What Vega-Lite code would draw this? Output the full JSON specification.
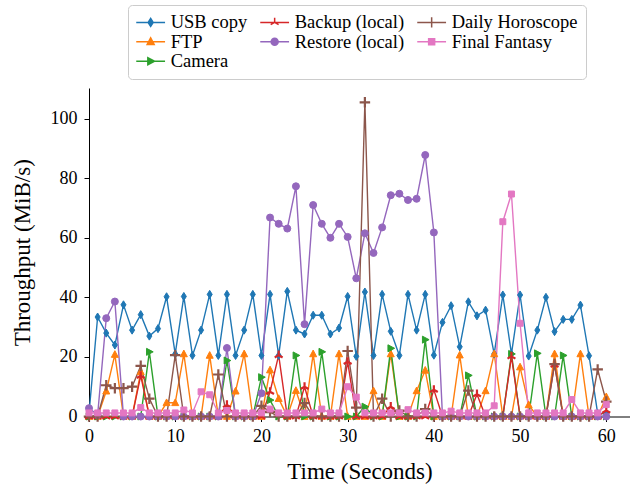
{
"$schema": "https://vega.github.io/schema/vega-lite/v6.json",
"autosize": {"type": "none"},
"padding": {"left": 89, "top": 88, "right": 0, "bottom": 75.5},
"width": 541,
"height": 328.5,
"background": "white",
"config": {
  "font": "Liberation Serif",
  "view": {"stroke": null},
  "axis": {"domainColor": "black", "tickColor": "black", "labelColor": "black", "titleColor": "black", "labelFont": "Liberation Serif", "titleFont": "Liberation Serif", "labelFontSize": 18, "titleFontSize": 23, "titleFontWeight": "normal", "grid": false, "tickSize": 5, "domainWidth": 1, "tickWidth": 1, "labelOverlap": false, "labelFlush": false}
},
"data": {"values": [
{"t":0,"series":"USB copy","v":1},{"t":1,"series":"USB copy","v":33.4},{"t":2,"series":"USB copy","v":28},{"t":3,"series":"USB copy","v":24},{"t":4,"series":"USB copy","v":37.5},{"t":5,"series":"USB copy","v":29},{"t":6,"series":"USB copy","v":34.2},{"t":7,"series":"USB copy","v":27},{"t":8,"series":"USB copy","v":29.5},{"t":9,"series":"USB copy","v":40.2},{"t":10,"series":"USB copy","v":21},{"t":11,"series":"USB copy","v":40.3},{"t":12,"series":"USB copy","v":20.5},{"t":13,"series":"USB copy","v":29},{"t":14,"series":"USB copy","v":41},{"t":15,"series":"USB copy","v":20.5},{"t":16,"series":"USB copy","v":41},{"t":17,"series":"USB copy","v":20.5},{"t":18,"series":"USB copy","v":29},{"t":19,"series":"USB copy","v":41},{"t":20,"series":"USB copy","v":20.5},{"t":21,"series":"USB copy","v":41},{"t":22,"series":"USB copy","v":20.5},{"t":23,"series":"USB copy","v":42},{"t":24,"series":"USB copy","v":29},{"t":25,"series":"USB copy","v":27.7},{"t":26,"series":"USB copy","v":34},{"t":27,"series":"USB copy","v":34},{"t":28,"series":"USB copy","v":27.7},{"t":29,"series":"USB copy","v":29.7},{"t":30,"series":"USB copy","v":40.3},{"t":31,"series":"USB copy","v":20.2},{"t":32,"series":"USB copy","v":41.8},{"t":33,"series":"USB copy","v":20.5},{"t":34,"series":"USB copy","v":41},{"t":35,"series":"USB copy","v":28.6},{"t":36,"series":"USB copy","v":20.5},{"t":37,"series":"USB copy","v":41},{"t":38,"series":"USB copy","v":29},{"t":39,"series":"USB copy","v":41},{"t":40,"series":"USB copy","v":20.6},{"t":41,"series":"USB copy","v":31.6},{"t":42,"series":"USB copy","v":37.2},{"t":43,"series":"USB copy","v":23.4},{"t":44,"series":"USB copy","v":38.5},{"t":45,"series":"USB copy","v":33.8},{"t":46,"series":"USB copy","v":35.7},{"t":47,"series":"USB copy","v":21},{"t":48,"series":"USB copy","v":40.8},{"t":49,"series":"USB copy","v":21},{"t":50,"series":"USB copy","v":40.8},{"t":51,"series":"USB copy","v":20.3},{"t":52,"series":"USB copy","v":29},{"t":53,"series":"USB copy","v":40},{"t":54,"series":"USB copy","v":28.5},{"t":55,"series":"USB copy","v":32.6},{"t":56,"series":"USB copy","v":32.6},{"t":57,"series":"USB copy","v":37.4},{"t":58,"series":"USB copy","v":20.4},{"t":59,"series":"USB copy","v":1},{"t":60,"series":"USB copy","v":1},
{"t":0,"series":"FTP","v":0},{"t":1,"series":"FTP","v":0},{"t":2,"series":"FTP","v":8.5},{"t":3,"series":"FTP","v":20.8},{"t":4,"series":"FTP","v":0},{"t":5,"series":"FTP","v":0},{"t":6,"series":"FTP","v":15},{"t":7,"series":"FTP","v":0},{"t":8,"series":"FTP","v":0},{"t":9,"series":"FTP","v":4.6},{"t":10,"series":"FTP","v":4.6},{"t":11,"series":"FTP","v":21},{"t":12,"series":"FTP","v":0},{"t":13,"series":"FTP","v":0},{"t":14,"series":"FTP","v":20.5},{"t":15,"series":"FTP","v":0},{"t":16,"series":"FTP","v":0},{"t":17,"series":"FTP","v":8.5},{"t":18,"series":"FTP","v":21},{"t":19,"series":"FTP","v":0},{"t":20,"series":"FTP","v":0},{"t":21,"series":"FTP","v":15.6},{"t":22,"series":"FTP","v":6},{"t":23,"series":"FTP","v":0},{"t":24,"series":"FTP","v":8.7},{"t":25,"series":"FTP","v":0},{"t":26,"series":"FTP","v":21},{"t":27,"series":"FTP","v":0},{"t":28,"series":"FTP","v":0},{"t":29,"series":"FTP","v":21},{"t":30,"series":"FTP","v":0},{"t":31,"series":"FTP","v":0},{"t":32,"series":"FTP","v":0},{"t":33,"series":"FTP","v":8.6},{"t":34,"series":"FTP","v":0},{"t":35,"series":"FTP","v":21},{"t":36,"series":"FTP","v":0},{"t":37,"series":"FTP","v":0},{"t":38,"series":"FTP","v":8.6},{"t":39,"series":"FTP","v":15.5},{"t":40,"series":"FTP","v":0},{"t":41,"series":"FTP","v":0},{"t":42,"series":"FTP","v":0},{"t":43,"series":"FTP","v":20.6},{"t":44,"series":"FTP","v":0},{"t":45,"series":"FTP","v":0},{"t":46,"series":"FTP","v":8.6},{"t":47,"series":"FTP","v":21},{"t":48,"series":"FTP","v":0},{"t":49,"series":"FTP","v":0},{"t":50,"series":"FTP","v":16.6},{"t":51,"series":"FTP","v":3.9},{"t":52,"series":"FTP","v":0},{"t":53,"series":"FTP","v":0},{"t":54,"series":"FTP","v":21},{"t":55,"series":"FTP","v":0},{"t":56,"series":"FTP","v":0},{"t":57,"series":"FTP","v":21},{"t":58,"series":"FTP","v":0},{"t":59,"series":"FTP","v":0},{"t":60,"series":"FTP","v":6.6},
{"t":0,"series":"Camera","v":0},{"t":1,"series":"Camera","v":0},{"t":2,"series":"Camera","v":0},{"t":3,"series":"Camera","v":0},{"t":4,"series":"Camera","v":0},{"t":5,"series":"Camera","v":0},{"t":6,"series":"Camera","v":0},{"t":7,"series":"Camera","v":21.7},{"t":8,"series":"Camera","v":0},{"t":9,"series":"Camera","v":0},{"t":10,"series":"Camera","v":0},{"t":11,"series":"Camera","v":0},{"t":12,"series":"Camera","v":0},{"t":13,"series":"Camera","v":0},{"t":14,"series":"Camera","v":0},{"t":15,"series":"Camera","v":0},{"t":16,"series":"Camera","v":18.8},{"t":17,"series":"Camera","v":0},{"t":18,"series":"Camera","v":0},{"t":19,"series":"Camera","v":0},{"t":20,"series":"Camera","v":13.2},{"t":21,"series":"Camera","v":5.5},{"t":22,"series":"Camera","v":0},{"t":23,"series":"Camera","v":0},{"t":24,"series":"Camera","v":20.5},{"t":25,"series":"Camera","v":0},{"t":26,"series":"Camera","v":0},{"t":27,"series":"Camera","v":21.7},{"t":28,"series":"Camera","v":0},{"t":29,"series":"Camera","v":0},{"t":30,"series":"Camera","v":0},{"t":31,"series":"Camera","v":0},{"t":32,"series":"Camera","v":3.3},{"t":33,"series":"Camera","v":0},{"t":34,"series":"Camera","v":0},{"t":35,"series":"Camera","v":22.9},{"t":36,"series":"Camera","v":0},{"t":37,"series":"Camera","v":0},{"t":38,"series":"Camera","v":0},{"t":39,"series":"Camera","v":25.8},{"t":40,"series":"Camera","v":0},{"t":41,"series":"Camera","v":0},{"t":42,"series":"Camera","v":0},{"t":43,"series":"Camera","v":0},{"t":44,"series":"Camera","v":13.8},{"t":45,"series":"Camera","v":0},{"t":46,"series":"Camera","v":0},{"t":47,"series":"Camera","v":0},{"t":48,"series":"Camera","v":0},{"t":49,"series":"Camera","v":21},{"t":50,"series":"Camera","v":0},{"t":51,"series":"Camera","v":0},{"t":52,"series":"Camera","v":21.2},{"t":53,"series":"Camera","v":0},{"t":54,"series":"Camera","v":0},{"t":55,"series":"Camera","v":20.5},{"t":56,"series":"Camera","v":0},{"t":57,"series":"Camera","v":0},{"t":58,"series":"Camera","v":0},{"t":59,"series":"Camera","v":0},{"t":60,"series":"Camera","v":0},
{"t":0,"series":"Backup (local)","v":0},{"t":1,"series":"Backup (local)","v":0},{"t":2,"series":"Backup (local)","v":0},{"t":3,"series":"Backup (local)","v":0},{"t":4,"series":"Backup (local)","v":0},{"t":5,"series":"Backup (local)","v":0},{"t":6,"series":"Backup (local)","v":13.7},{"t":7,"series":"Backup (local)","v":0},{"t":8,"series":"Backup (local)","v":0},{"t":9,"series":"Backup (local)","v":0},{"t":10,"series":"Backup (local)","v":0},{"t":11,"series":"Backup (local)","v":0},{"t":12,"series":"Backup (local)","v":0},{"t":13,"series":"Backup (local)","v":0},{"t":14,"series":"Backup (local)","v":0},{"t":15,"series":"Backup (local)","v":0},{"t":16,"series":"Backup (local)","v":3.9},{"t":17,"series":"Backup (local)","v":0},{"t":18,"series":"Backup (local)","v":0},{"t":19,"series":"Backup (local)","v":0},{"t":20,"series":"Backup (local)","v":0},{"t":21,"series":"Backup (local)","v":8.3},{"t":22,"series":"Backup (local)","v":20.6},{"t":23,"series":"Backup (local)","v":0},{"t":24,"series":"Backup (local)","v":0},{"t":25,"series":"Backup (local)","v":10},{"t":26,"series":"Backup (local)","v":0},{"t":27,"series":"Backup (local)","v":0},{"t":28,"series":"Backup (local)","v":0},{"t":29,"series":"Backup (local)","v":0},{"t":30,"series":"Backup (local)","v":18.4},{"t":31,"series":"Backup (local)","v":0},{"t":32,"series":"Backup (local)","v":0},{"t":33,"series":"Backup (local)","v":0},{"t":34,"series":"Backup (local)","v":0},{"t":35,"series":"Backup (local)","v":3.3},{"t":36,"series":"Backup (local)","v":0},{"t":37,"series":"Backup (local)","v":0},{"t":38,"series":"Backup (local)","v":0},{"t":39,"series":"Backup (local)","v":0},{"t":40,"series":"Backup (local)","v":9},{"t":41,"series":"Backup (local)","v":0},{"t":42,"series":"Backup (local)","v":0},{"t":43,"series":"Backup (local)","v":0},{"t":44,"series":"Backup (local)","v":0},{"t":45,"series":"Backup (local)","v":7.5},{"t":46,"series":"Backup (local)","v":0},{"t":47,"series":"Backup (local)","v":0},{"t":48,"series":"Backup (local)","v":0},{"t":49,"series":"Backup (local)","v":20.2},{"t":50,"series":"Backup (local)","v":0},{"t":51,"series":"Backup (local)","v":0},{"t":52,"series":"Backup (local)","v":0},{"t":53,"series":"Backup (local)","v":0},{"t":54,"series":"Backup (local)","v":17.4},{"t":55,"series":"Backup (local)","v":0},{"t":56,"series":"Backup (local)","v":0},{"t":57,"series":"Backup (local)","v":0},{"t":58,"series":"Backup (local)","v":0},{"t":59,"series":"Backup (local)","v":0},{"t":60,"series":"Backup (local)","v":2},
{"t":0,"series":"Restore (local)","v":2.8},{"t":1,"series":"Restore (local)","v":0.5},{"t":2,"series":"Restore (local)","v":33},{"t":3,"series":"Restore (local)","v":38.6},{"t":4,"series":"Restore (local)","v":0},{"t":5,"series":"Restore (local)","v":0},{"t":6,"series":"Restore (local)","v":0},{"t":7,"series":"Restore (local)","v":0},{"t":8,"series":"Restore (local)","v":0},{"t":9,"series":"Restore (local)","v":0},{"t":10,"series":"Restore (local)","v":0},{"t":11,"series":"Restore (local)","v":0},{"t":12,"series":"Restore (local)","v":0},{"t":13,"series":"Restore (local)","v":0},{"t":14,"series":"Restore (local)","v":0},{"t":15,"series":"Restore (local)","v":0},{"t":16,"series":"Restore (local)","v":23},{"t":17,"series":"Restore (local)","v":0},{"t":18,"series":"Restore (local)","v":0},{"t":19,"series":"Restore (local)","v":0},{"t":20,"series":"Restore (local)","v":7.8},{"t":21,"series":"Restore (local)","v":66.8},{"t":22,"series":"Restore (local)","v":64.7},{"t":23,"series":"Restore (local)","v":63.1},{"t":24,"series":"Restore (local)","v":77.3},{"t":25,"series":"Restore (local)","v":31},{"t":26,"series":"Restore (local)","v":71},{"t":27,"series":"Restore (local)","v":64.7},{"t":28,"series":"Restore (local)","v":60},{"t":29,"series":"Restore (local)","v":64.7},{"t":30,"series":"Restore (local)","v":60.3},{"t":31,"series":"Restore (local)","v":46.4},{"t":32,"series":"Restore (local)","v":61.5},{"t":33,"series":"Restore (local)","v":54.9},{"t":34,"series":"Restore (local)","v":63.5},{"t":35,"series":"Restore (local)","v":74.3},{"t":36,"series":"Restore (local)","v":74.8},{"t":37,"series":"Restore (local)","v":72.7},{"t":38,"series":"Restore (local)","v":73.1},{"t":39,"series":"Restore (local)","v":87.8},{"t":40,"series":"Restore (local)","v":61.8},{"t":41,"series":"Restore (local)","v":0},{"t":42,"series":"Restore (local)","v":0},{"t":43,"series":"Restore (local)","v":0},{"t":44,"series":"Restore (local)","v":0},{"t":45,"series":"Restore (local)","v":0},{"t":46,"series":"Restore (local)","v":0},{"t":47,"series":"Restore (local)","v":0},{"t":48,"series":"Restore (local)","v":0},{"t":49,"series":"Restore (local)","v":0},{"t":50,"series":"Restore (local)","v":0},{"t":51,"series":"Restore (local)","v":0},{"t":52,"series":"Restore (local)","v":0},{"t":53,"series":"Restore (local)","v":0},{"t":54,"series":"Restore (local)","v":0},{"t":55,"series":"Restore (local)","v":0},{"t":56,"series":"Restore (local)","v":0},{"t":57,"series":"Restore (local)","v":0},{"t":58,"series":"Restore (local)","v":0},{"t":59,"series":"Restore (local)","v":0},{"t":60,"series":"Restore (local)","v":0},
{"t":0,"series":"Daily Horoscope","v":0},{"t":1,"series":"Daily Horoscope","v":0},{"t":2,"series":"Daily Horoscope","v":10.5},{"t":3,"series":"Daily Horoscope","v":9.5},{"t":4,"series":"Daily Horoscope","v":9.5},{"t":5,"series":"Daily Horoscope","v":10},{"t":6,"series":"Daily Horoscope","v":17},{"t":7,"series":"Daily Horoscope","v":6},{"t":8,"series":"Daily Horoscope","v":0},{"t":9,"series":"Daily Horoscope","v":0},{"t":10,"series":"Daily Horoscope","v":20.6},{"t":11,"series":"Daily Horoscope","v":0},{"t":12,"series":"Daily Horoscope","v":0},{"t":13,"series":"Daily Horoscope","v":0},{"t":14,"series":"Daily Horoscope","v":0},{"t":15,"series":"Daily Horoscope","v":14.1},{"t":16,"series":"Daily Horoscope","v":0},{"t":17,"series":"Daily Horoscope","v":0},{"t":18,"series":"Daily Horoscope","v":0},{"t":19,"series":"Daily Horoscope","v":0},{"t":20,"series":"Daily Horoscope","v":3.6},{"t":21,"series":"Daily Horoscope","v":1.5},{"t":22,"series":"Daily Horoscope","v":0},{"t":23,"series":"Daily Horoscope","v":0},{"t":24,"series":"Daily Horoscope","v":0},{"t":25,"series":"Daily Horoscope","v":4.5},{"t":26,"series":"Daily Horoscope","v":0},{"t":27,"series":"Daily Horoscope","v":0},{"t":28,"series":"Daily Horoscope","v":0},{"t":29,"series":"Daily Horoscope","v":0},{"t":30,"series":"Daily Horoscope","v":22},{"t":31,"series":"Daily Horoscope","v":3},{"t":32,"series":"Daily Horoscope","v":105.5},{"t":33,"series":"Daily Horoscope","v":0},{"t":34,"series":"Daily Horoscope","v":6},{"t":35,"series":"Daily Horoscope","v":0},{"t":36,"series":"Daily Horoscope","v":2},{"t":37,"series":"Daily Horoscope","v":0},{"t":38,"series":"Daily Horoscope","v":0},{"t":39,"series":"Daily Horoscope","v":2.5},{"t":40,"series":"Daily Horoscope","v":0},{"t":41,"series":"Daily Horoscope","v":0},{"t":42,"series":"Daily Horoscope","v":0},{"t":43,"series":"Daily Horoscope","v":0},{"t":44,"series":"Daily Horoscope","v":8.7},{"t":45,"series":"Daily Horoscope","v":0},{"t":46,"series":"Daily Horoscope","v":0},{"t":47,"series":"Daily Horoscope","v":0},{"t":48,"series":"Daily Horoscope","v":0},{"t":49,"series":"Daily Horoscope","v":0},{"t":50,"series":"Daily Horoscope","v":0},{"t":51,"series":"Daily Horoscope","v":0},{"t":52,"series":"Daily Horoscope","v":0},{"t":53,"series":"Daily Horoscope","v":0},{"t":54,"series":"Daily Horoscope","v":17.6},{"t":55,"series":"Daily Horoscope","v":0},{"t":56,"series":"Daily Horoscope","v":0},{"t":57,"series":"Daily Horoscope","v":0},{"t":58,"series":"Daily Horoscope","v":0},{"t":59,"series":"Daily Horoscope","v":15.8},{"t":60,"series":"Daily Horoscope","v":5},
{"t":0,"series":"Final Fantasy","v":1.2},{"t":1,"series":"Final Fantasy","v":1.2},{"t":2,"series":"Final Fantasy","v":1.2},{"t":3,"series":"Final Fantasy","v":1.2},{"t":4,"series":"Final Fantasy","v":1.2},{"t":5,"series":"Final Fantasy","v":1.2},{"t":6,"series":"Final Fantasy","v":3},{"t":7,"series":"Final Fantasy","v":1.2},{"t":8,"series":"Final Fantasy","v":1.2},{"t":9,"series":"Final Fantasy","v":1.2},{"t":10,"series":"Final Fantasy","v":1.2},{"t":11,"series":"Final Fantasy","v":2.2},{"t":12,"series":"Final Fantasy","v":1.2},{"t":13,"series":"Final Fantasy","v":8.3},{"t":14,"series":"Final Fantasy","v":7.3},{"t":15,"series":"Final Fantasy","v":1.2},{"t":16,"series":"Final Fantasy","v":2},{"t":17,"series":"Final Fantasy","v":1.2},{"t":18,"series":"Final Fantasy","v":1.2},{"t":19,"series":"Final Fantasy","v":1.2},{"t":20,"series":"Final Fantasy","v":1.2},{"t":21,"series":"Final Fantasy","v":2.5},{"t":22,"series":"Final Fantasy","v":1.2},{"t":23,"series":"Final Fantasy","v":1.2},{"t":24,"series":"Final Fantasy","v":1.2},{"t":25,"series":"Final Fantasy","v":1.2},{"t":26,"series":"Final Fantasy","v":1.2},{"t":27,"series":"Final Fantasy","v":2.5},{"t":28,"series":"Final Fantasy","v":1.2},{"t":29,"series":"Final Fantasy","v":1.2},{"t":30,"series":"Final Fantasy","v":10},{"t":31,"series":"Final Fantasy","v":6.5},{"t":32,"series":"Final Fantasy","v":1.2},{"t":33,"series":"Final Fantasy","v":1.2},{"t":34,"series":"Final Fantasy","v":1.2},{"t":35,"series":"Final Fantasy","v":1.2},{"t":36,"series":"Final Fantasy","v":1.2},{"t":37,"series":"Final Fantasy","v":2.3},{"t":38,"series":"Final Fantasy","v":1.2},{"t":39,"series":"Final Fantasy","v":1.2},{"t":40,"series":"Final Fantasy","v":1.2},{"t":41,"series":"Final Fantasy","v":1.2},{"t":42,"series":"Final Fantasy","v":1.8},{"t":43,"series":"Final Fantasy","v":1.2},{"t":44,"series":"Final Fantasy","v":1.2},{"t":45,"series":"Final Fantasy","v":1.2},{"t":46,"series":"Final Fantasy","v":1.2},{"t":47,"series":"Final Fantasy","v":3.6},{"t":48,"series":"Final Fantasy","v":65.4},{"t":49,"series":"Final Fantasy","v":74.7},{"t":50,"series":"Final Fantasy","v":31.3},{"t":51,"series":"Final Fantasy","v":1.2},{"t":52,"series":"Final Fantasy","v":1.2},{"t":53,"series":"Final Fantasy","v":1.2},{"t":54,"series":"Final Fantasy","v":1.2},{"t":55,"series":"Final Fantasy","v":1.2},{"t":56,"series":"Final Fantasy","v":5.7},{"t":57,"series":"Final Fantasy","v":1.2},{"t":58,"series":"Final Fantasy","v":1.2},{"t":59,"series":"Final Fantasy","v":1.2},{"t":60,"series":"Final Fantasy","v":4}
]},
"encoding": {
  "x": {"field": "t", "type": "quantitative", "scale": {"domain": [0, 62.75], "nice": false, "zero": false}, "axis": {"values": [0,10,20,30,40,50,60], "title": "Time (Seconds)", "labelPadding": 6, "titlePadding": 15}},
  "y": {"field": "v", "type": "quantitative", "scale": {"domain": [0, 110.3], "nice": false}, "axis": {"values": [0,20,40,60,80,100], "title": "Throughput (MiB/s)", "labelPadding": 7, "titlePadding": 16}},
  "color": {"field": "series", "type": "nominal",
    "scale": {"domain": ["USB copy","Backup (local)","Daily Horoscope","FTP","Restore (local)","Final Fantasy","Camera"], "range": ["#1f77b4","#d62728","#8c564b","#ff7f0e","#9467bd","#e377c2","#2ca02c"]},
    "legend": {"title": null, "orient": "none", "legendX": 39, "legendY": -83, "columns": 3, "direction": "horizontal", "symbolSize": 64, "symbolStrokeWidth": 1.5, "symbolOffset": 5.4, "labelFont": "Liberation Serif", "labelFontSize": 18.5, "labelColor": "black", "labelOffset": 10.8, "columnPadding": 9, "rowPadding": 0.5, "padding": 8, "fillColor": "white", "strokeColor": "#cccccc", "cornerRadius": 4, "labelLimit": 300, "symbolOpacity": 1,
      "encode": {"symbols": {"update": {
        "shape": {"signal": "datum.value === 'USB copy' ? 'M-3.6,0H3.6M0,-1L0.63,0L0,1L-0.63,0Z' : datum.value === 'FTP' ? 'M-3.6,0H3.6M0,-0.96L0.875,0.7L-0.875,0.7Z' : datum.value === 'Camera' ? 'M-3.6,0H3.6M0.96,0L-0.7,-0.875L-0.7,0.875Z' : datum.value === 'Backup (local)' ? 'M-3.6,0H3.6M0,0V-1.14M0,0L-0.99,0.57M0,0L0.99,0.57' : datum.value === 'Restore (local)' ? 'M-3.6,0H3.6M-0.875,0A0.875,0.875,0,1,1,0.875,0A0.875,0.875,0,1,1,-0.875,0Z' : datum.value === 'Daily Horoscope' ? 'M-3.6,0H3.6M0,-1.3V1.3' : 'M-3.6,0H3.6M-0.75,-0.75H0.75V0.75H-0.75Z'"},
        "stroke": {"scale": "color", "field": "value"},
        "fill": {"scale": "color", "field": "value"},
        "strokeWidth": {"value": 1.5},
        "opacity": {"value": 1}
      }}}}
  }
},
"layer": [
  {"mark": {"type": "line", "strokeWidth": 1.4}},
  {"mark": {"type": "point", "filled": true, "size": 49, "opacity": 1},
   "encoding": {
     "shape": {"condition": [
        {"test": "datum.series === 'USB copy'", "value": "M0,-1.15L0.72,0L0,1.15L-0.72,0Z"},
        {"test": "datum.series === 'FTP'", "value": "M0,-1.1L1,0.8L-1,0.8Z"},
        {"test": "datum.series === 'Camera'", "value": "M1.1,0L-0.8,-1L-0.8,1Z"},
        {"test": "datum.series === 'Backup (local)'", "value": "M0,0V-1.3M0,0L-1.13,0.65M0,0L1.13,0.65"},
        {"test": "datum.series === 'Restore (local)'", "value": "circle"},
        {"test": "datum.series === 'Daily Horoscope'", "value": "M-1.5,0H1.5M0,-1.5V1.5"}
       ], "value": "M-0.85,-0.85H0.85V0.85H-0.85Z"},
     "stroke": {"field": "series", "type": "nominal", "legend": null,
       "scale": {"domain": ["USB copy","Backup (local)","Daily Horoscope","FTP","Restore (local)","Final Fantasy","Camera"], "range": ["#1f77b4","#d62728","#8c564b","#ff7f0e","#9467bd","#e377c2","#2ca02c"]}},
     "strokeWidth": {"condition": {"test": "datum.series === 'Backup (local)' || datum.series === 'Daily Horoscope'", "value": 2.2}, "value": 1}
   }}
]
}
